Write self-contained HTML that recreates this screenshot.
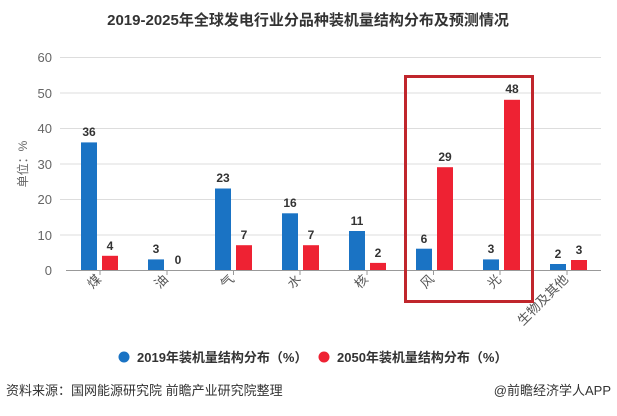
<!DOCTYPE html>
<html><head><meta charset="utf-8"><style>
body{margin:0;background:#fff;width:617px;height:411px;overflow:hidden;font-family:"Liberation Sans","Noto Sans CJK SC",sans-serif}
</style></head><body>
<svg width="617" height="411" xmlns="http://www.w3.org/2000/svg" font-family="Liberation Sans, Noto Sans CJK SC, sans-serif">
<text x="308" y="25" text-anchor="middle" font-size="15" font-weight="bold" fill="#333">2019-2025年全球发电行业分品种装机量结构分布及预测情况</text>
<g stroke="#ddd" stroke-width="1">
<line x1="60" x2="601" y1="57.5" y2="57.5"/><line x1="60" x2="601" y1="93" y2="93"/><line x1="60" x2="601" y1="128.5" y2="128.5"/><line x1="60" x2="601" y1="164" y2="164"/><line x1="60" x2="601" y1="199.5" y2="199.5"/><line x1="60" x2="601" y1="235" y2="235"/>
</g>
<line x1="66" x2="601" y1="270.5" y2="270.5" stroke="#999"/>
<g font-size="13" fill="#666" text-anchor="end">
<text x="52" y="62">60</text><text x="52" y="98">50</text><text x="52" y="133">40</text><text x="52" y="169">30</text><text x="52" y="204">20</text><text x="52" y="240">10</text><text x="52" y="275">0</text>
</g>
<text transform="translate(27,164) rotate(-90)" font-size="12" fill="#666" text-anchor="middle">单位：%</text>
<g stroke="#999">
<line x1="100" x2="100" y1="270" y2="275"/><line x1="167" x2="167" y1="270" y2="275"/><line x1="233.5" x2="233.5" y1="270" y2="275"/><line x1="300" x2="300" y1="270" y2="275"/><line x1="367" x2="367" y1="270" y2="275"/><line x1="433.5" x2="433.5" y1="270" y2="275"/><line x1="500" x2="500" y1="270" y2="275"/><line x1="567" x2="567" y1="270" y2="275"/>
</g>
<g id="bars"></g>
<g font-size="13" fill="#555" text-anchor="end">
<text transform="translate(102,280) rotate(-45)">煤</text>
<text transform="translate(169,280) rotate(-45)">油</text>
<text transform="translate(235,280) rotate(-45)">气</text>
<text transform="translate(302,280) rotate(-45)">水</text>
<text transform="translate(369,280) rotate(-45)">核</text>
<text transform="translate(435,280) rotate(-45)">风</text>
<text transform="translate(502,280) rotate(-45)">光</text>
<text transform="translate(569,280) rotate(-45)">生物及其他</text>
</g>
<g>
<rect x="81" y="142.4" width="16" height="127.6" fill="#1a73c4"/><rect x="102" y="255.8" width="16" height="14.2" fill="#ee2233"/>
<rect x="148" y="259.4" width="16" height="10.6" fill="#1a73c4"/>
<rect x="215" y="188.5" width="16" height="81.5" fill="#1a73c4"/><rect x="236" y="245.2" width="16" height="24.8" fill="#ee2233"/>
<rect x="282" y="213.3" width="16" height="56.7" fill="#1a73c4"/><rect x="303" y="245.2" width="16" height="24.8" fill="#ee2233"/>
<rect x="349" y="231" width="16" height="39" fill="#1a73c4"/><rect x="370" y="262.9" width="16" height="7.1" fill="#ee2233"/>
<rect x="416" y="248.7" width="16" height="21.3" fill="#1a73c4"/><rect x="437" y="167.2" width="16" height="102.8" fill="#ee2233"/>
<rect x="483" y="259.4" width="16" height="10.6" fill="#1a73c4"/><rect x="504" y="99.8" width="16" height="170.2" fill="#ee2233"/>
<rect x="550" y="264" width="16" height="6" fill="#1a73c4"/><rect x="571" y="260" width="16" height="10" fill="#ee2233"/>
</g>
<g font-size="12" font-weight="bold" fill="#333" text-anchor="middle">
<text x="89" y="136">36</text><text x="110" y="250">4</text>
<text x="156" y="253">3</text><text x="178" y="264">0</text>
<text x="223" y="182">23</text><text x="244" y="239">7</text>
<text x="290" y="207">16</text><text x="311" y="239">7</text>
<text x="357" y="225">11</text><text x="378" y="257">2</text>
<text x="424" y="243">6</text><text x="445" y="161">29</text>
<text x="491" y="253">3</text><text x="512" y="93">48</text>
<text x="558" y="258">2</text><text x="579" y="254">3</text>
</g>
<rect x="405.5" y="76.5" width="127" height="225" fill="none" stroke="#c0262c" stroke-width="3"/>
<circle cx="124" cy="357" r="5.5" fill="#1a73c4"/>
<text x="137" y="362" font-size="13" font-weight="bold" fill="#333">2019年装机量结构分布（%）</text>
<circle cx="324" cy="357" r="5.5" fill="#ee2233"/>
<text x="337" y="362" font-size="13" font-weight="bold" fill="#333">2050年装机量结构分布（%）</text>
<text x="6" y="395" font-size="13" fill="#333">资料来源：国网能源研究院 前瞻产业研究院整理</text>
<text x="611" y="395" font-size="13" fill="#333" text-anchor="end">@前瞻经济学人APP</text>
</svg>
</body></html>
